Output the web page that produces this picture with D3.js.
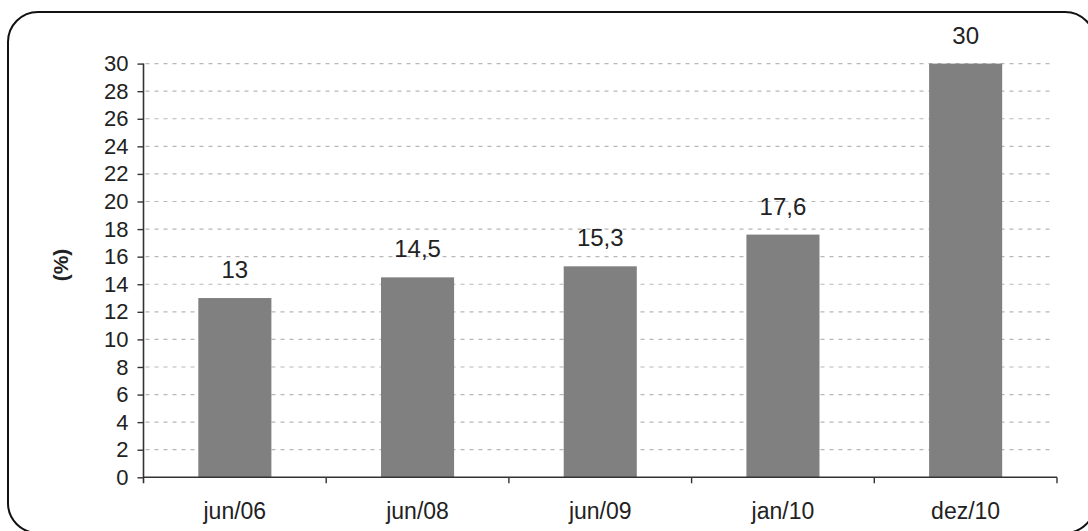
<!DOCTYPE html>
<html>
<head>
<meta charset="utf-8">
<script src="https://cdn.jsdelivr.net/npm/d3@7"></script>
<style>
  html, body { margin: 0; padding: 0; background: #fff; }
  svg { display: block; }
  text { font-family: "Liberation Sans", Arial, sans-serif; fill: #222; }
</style>
</head>
<body>
<svg id="chart" width="1088" height="531"></svg>
<script>
// Data
const categories = ["jun/06", "jun/08", "jun/09", "jan/10", "dez/10"];
const values = [13, 14.5, 15.3, 17.6, 30];
const valueLabels = ["13", "14,5", "15,3", "17,6", "30"];
const yTicks = [0, 2, 4, 6, 8, 10, 12, 14, 16, 18, 20, 22, 24, 26, 28, 30];

(function () {
  const svg = d3.select("#chart");

  // Rounded frame around the chart
  svg.append("rect")
    .attr("x", 8).attr("y", 12)
    .attr("width", 1087).attr("height", 521)
    .attr("rx", 30).attr("ry", 30)
    .attr("fill", "none")
    .attr("stroke", "#111")
    .attr("stroke-width", 2);

  const plotL = 143.5, plotR = 1057, plotT = 63.6, plotB = 477.3;

  const x = d3.scaleBand().domain(categories).range([plotL, plotR]).paddingInner(0).paddingOuter(0);
  const y = d3.scaleLinear().domain([0, 30]).range([plotB, plotT]);

  const g = svg.append("g");

  // Dashed horizontal gridlines
  g.selectAll("line.grid")
    .data(yTicks.filter(d => d > 0))
    .enter().append("line")
    .attr("class", "grid")
    .attr("x1", plotL + 2).attr("x2", 1052)
    .attr("y1", d => y(d)).attr("y2", d => y(d))
    .attr("stroke", "#b8b8b8")
    .attr("stroke-width", 1.2)
    .attr("stroke-dasharray", "4,5");

  // Bars
  const barW = x.bandwidth() * 0.4;
  g.selectAll("rect.bar")
    .data(values)
    .enter().append("rect")
    .attr("class", "bar")
    .attr("x", (d, i) => x(categories[i]) + (x.bandwidth() - barW) / 2)
    .attr("y", d => y(d))
    .attr("width", barW)
    .attr("height", d => y(0) - y(d))
    .attr("fill", "#808080");

  // Value labels
  g.selectAll("text.val")
    .data(values)
    .enter().append("text")
    .attr("class", "val")
    .attr("x", (d, i) => x(categories[i]) + x.bandwidth() / 2)
    .attr("y", d => y(d) - 20)
    .attr("text-anchor", "middle")
    .attr("font-size", 24)
    .text((d, i) => valueLabels[i]);

  // Y axis
  const yAxis = d3.axisLeft(y).tickValues(yTicks).tickSize(6).tickPadding(9).tickFormat(d3.format("d"));
  const ya = svg.append("g").attr("transform", `translate(${plotL},0)`).call(yAxis);
  ya.select(".domain").attr("d", `M0,${plotT}V${plotB + 6}`).attr("stroke", "#333").attr("stroke-width", 1.6);
  ya.selectAll(".tick line").attr("stroke", "#333").attr("stroke-width", 1.4);
  ya.selectAll(".tick text").attr("font-size", 22).attr("fill", "#222")
    .attr("font-family", "'Liberation Sans', Arial, sans-serif");

  // X axis: line with ticks at the category boundaries
  const xa = svg.append("g").attr("transform", `translate(0,${plotB})`);
  xa.append("line").attr("x1", plotL).attr("x2", plotR).attr("y1", 0).attr("y2", 0)
    .attr("stroke", "#333").attr("stroke-width", 1.6);
  const bounds = categories.map(c => x(c)).slice(1).concat([plotR]);
  xa.selectAll("line.tk").data(bounds).enter().append("line")
    .attr("class", "tk")
    .attr("x1", d => d).attr("x2", d => d).attr("y1", 0).attr("y2", 6)
    .attr("stroke", "#333").attr("stroke-width", 1.4);
  xa.selectAll("text").data(categories).enter().append("text")
    .attr("x", d => x(d) + x.bandwidth() / 2)
    .attr("y", 42)
    .attr("text-anchor", "middle")
    .attr("font-size", 23)
    .text(d => d);

  // Y axis title
  svg.append("text")
    .attr("transform", "translate(68,265) rotate(-90)")
    .attr("text-anchor", "middle")
    .attr("font-size", 21)
    .attr("font-weight", "bold")
    .text("(%)");
})();
</script>
</body>
</html>
